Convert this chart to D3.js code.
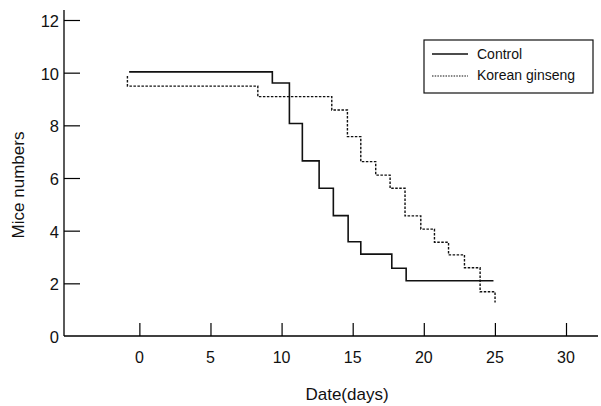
<!DOCTYPE html>
<html>
<head>
<meta charset="utf-8">
<script src="https://cdn.jsdelivr.net/npm/d3@7"></script>
<style>
    body { margin: 0; background: #fff; }
    text { font-family: "Liberation Sans", Arial, Helvetica, sans-serif; fill: #111; }
</style>
</head>
<body>
<div id="chart"></div>
<script>
// values
var controlDays = [-0.72, 9.35, 10.55, 11.46, 12.64, 13.64, 14.68, 15.57, 17.75, 18.76, 24.9];
var controlMice = [10.03, 9.61, 8.07, 6.65, 5.61, 4.57, 3.58, 3.11, 2.57, 2.10, 2.10];

var ginsengDays = [-0.84, -0.84, 8.33, 13.53, 14.63, 15.57, 16.62, 17.63, 18.68, 19.79, 20.75, 21.74, 22.86, 23.96, 25.01];
var ginsengMice = [9.87, 9.49, 9.09, 8.58, 7.57, 6.62, 6.11, 5.61, 4.56, 4.06, 3.56, 3.08, 2.59, 1.68, 1.27];

var xTicks = [0, 5, 10, 15, 20, 25, 30];
var yTicks = [0, 2, 4, 6, 8, 10, 12];
var seriesNames = ["Control", "Korean ginseng"];

var width = 601;
var height = 406;

var svg = d3.select("#chart")
    .append("svg")
    .attr("width", width)
    .attr("height", height);

var x = d3.scaleLinear()
    .domain([-5.3, 32.25])
    .range([64, 598]);

var y = d3.scaleLinear()
    .domain([0, 12])
    .range([336, 20]);

// x axis, ticks pointing up
var xAxis = svg.append("g")
    .attr("transform", "translate(0,336)")
    .call(d3.axisTop(x).tickValues(xTicks).tickSize(13).tickFormat(""));
xAxis.select(".domain").attr("d", "M64,0H598").attr("stroke-width", 1.3);
xAxis.selectAll(".tick line").attr("stroke-width", 1.2);

svg.append("g")
    .selectAll("text")
    .data(xTicks)
    .enter()
    .append("text")
    .attr("x", function(d) { return x(d); })
    .attr("y", 363)
    .attr("text-anchor", "middle")
    .style("font-size", "16px")
    .text(function(d) { return d; });

// y axis, ticks pointing right
var yAxis = svg.append("g")
    .attr("transform", "translate(64,0)")
    .call(d3.axisRight(y).tickValues(yTicks).tickSize(16).tickFormat(""));
yAxis.select(".domain").attr("d", "M0,10V336").attr("stroke-width", 1.3);
yAxis.selectAll(".tick line").attr("stroke-width", 1.2);
yAxis.selectAll(".tick").filter(function(d) { return d == 0; }).select("line").remove();

svg.append("g")
    .selectAll("text")
    .data(yTicks)
    .enter()
    .append("text")
    .attr("x", 59)
    .attr("y", function(d) { return y(d) + 7; })
    .attr("text-anchor", "end")
    .style("font-size", "16.5px")
    .text(function(d) { return d; });

svg.append("text")
    .attr("x", 347)
    .attr("y", 400)
    .attr("text-anchor", "middle")
    .style("font-size", "17px")
    .text("Date(days)");

svg.append("text")
    .attr("transform", "translate(24,185) rotate(-90)")
    .attr("text-anchor", "middle")
    .style("font-size", "17px")
    .text("Mice numbers");

// survival steps
var step = d3.line()
    .x(function(d) { return x(d[0]); })
    .y(function(d) { return y(d[1]); })
    .curve(d3.curveStepAfter);

svg.append("path")
    .datum(d3.zip(controlDays, controlMice))
    .attr("d", step)
    .attr("fill", "none")
    .attr("stroke", "#111")
    .attr("stroke-width", 1.6);

svg.append("path")
    .datum(d3.zip(ginsengDays, ginsengMice))
    .attr("d", step)
    .attr("fill", "none")
    .attr("stroke", "#111")
    .attr("stroke-width", 1.4)
    .attr("stroke-dasharray", "2.5,1.5");

// legend
var legend = svg.append("g");

legend.append("rect")
    .attr("x", 424)
    .attr("y", 40)
    .attr("width", 169)
    .attr("height", 53)
    .attr("fill", "none")
    .attr("stroke", "#111")
    .attr("stroke-width", 1.2);

legend.append("line")
    .attr("x1", 432).attr("x2", 468)
    .attr("y1", 54).attr("y2", 54)
    .attr("stroke", "#111")
    .attr("stroke-width", 1.4);

legend.append("line")
    .attr("x1", 432).attr("x2", 468)
    .attr("y1", 76).attr("y2", 76)
    .attr("stroke", "#111")
    .attr("stroke-width", 1.1)
    .attr("stroke-dasharray", "1.5,1.2");

legend.selectAll("text.leg")
    .data(seriesNames)
    .enter()
    .append("text")
    .attr("class", "leg")
    .attr("x", 477)
    .attr("y", function(d, i) { return 59 + i * 21; })
    .style("font-size", "14px")
    .text(function(d) { return d; });
</script>
</body>
</html>
